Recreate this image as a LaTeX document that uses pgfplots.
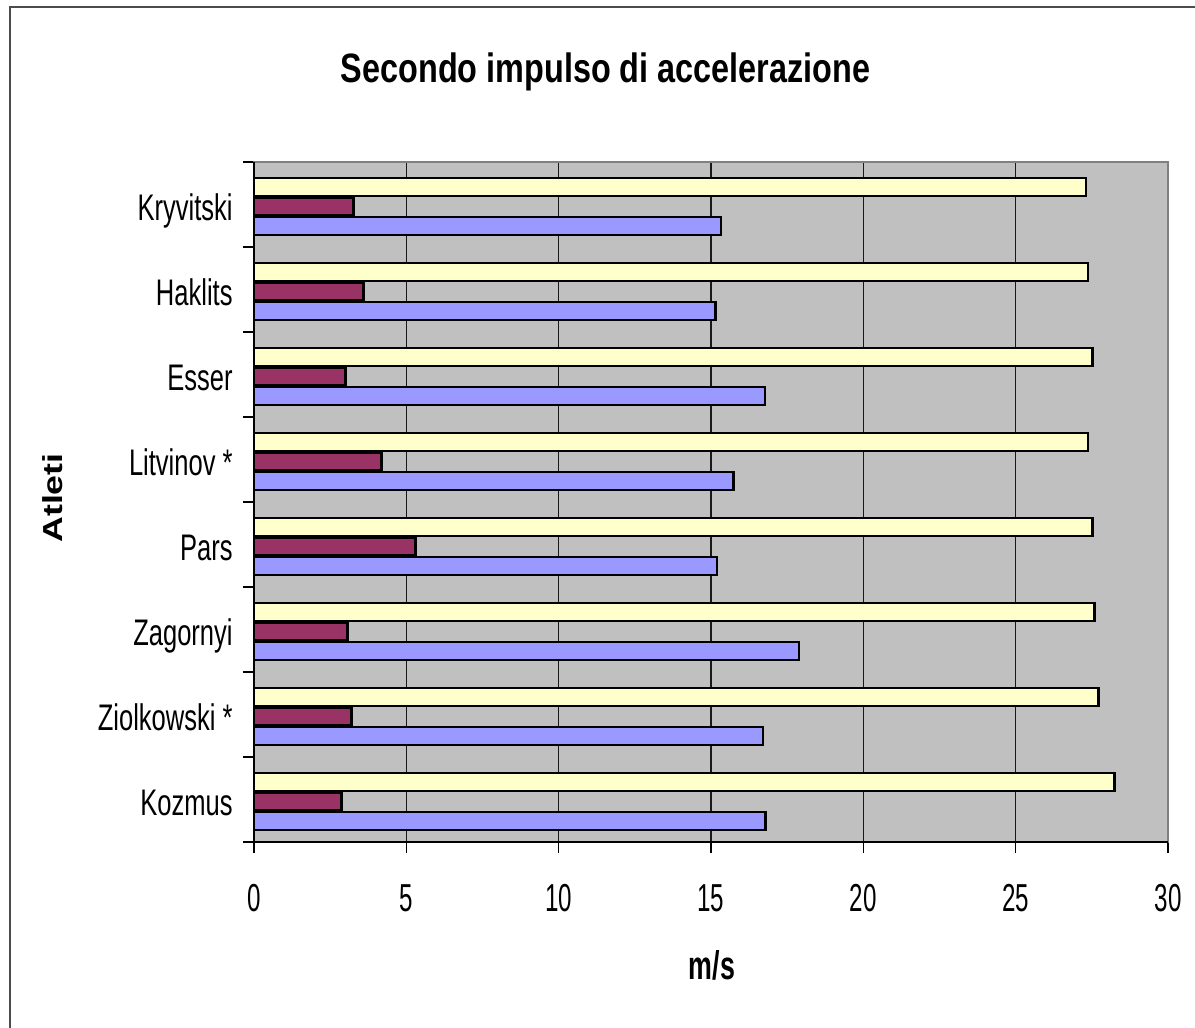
\documentclass[border=0pt]{standalone}
\usepackage{fontspec}
\usepackage{pgfplots}
\pgfplotsset{compat=1.18}
\setmainfont{Liberation Sans}
\newfontfamily\titlefont{Liberation Sans}[FakeStretch=0.79]
\newfontfamily\catfont{Liberation Sans}[FakeStretch=0.69]
\newfontfamily\numfont{Liberation Sans}[FakeStretch=0.62]
\newfontfamily\msfont{Liberation Sans}[FakeStretch=0.67]
\newfontfamily\atfont{Liberation Sans}[FakeStretch=1.3]

\definecolor{plotbg}{HTML}{C0C0C0}
\definecolor{barYellow}{HTML}{FFFFCC}
\definecolor{barMaroon}{HTML}{993366}
\definecolor{barBlue}{HTML}{9999FF}

\begin{document}
\begin{tikzpicture}[x=0.5pt,y=-0.5pt]
\path[use as bounding box] (0,0) rectangle (1195,1028);
% chart frame
\draw[black!70, line width=0.7pt] (10,1028) -- (10,7) -- (1195,7);

\begin{axis}[
  at={(127pt,-421pt)}, anchor=south west,
  scale only axis, width=457pt, height=340pt,
  xmin=0, xmax=30, ymin=-0.5, ymax=7.5,
  axis background/.style={fill=plotbg},
  axis line style={draw=black!50, line width=1pt},
  xtick={0,5,...,30},
  xticklabels={0,5,10,15,20,25,30},
  ytick={-0.5,0.5,...,7.5},
  yticklabels={Kozmus,Ziolkowski *,Zagornyi,Pars\ ,Litvinov *,Esser,Haklits,Kryvitski,{}},
  xtick pos=bottom, ytick pos=left,
  tick align=outside,
  major tick length=5.5pt,
  tick style={black, line width=0.6pt},
  xmajorgrids=true,
  major grid style={black!90, line width=0.55pt},
  xticklabel style={font=\numfont\fontsize{19.5pt}{22pt}\selectfont, anchor=base, inner sep=0pt, yshift=-29pt},
  yticklabel style={font=\catfont\fontsize{18.5pt}{22pt}\selectfont, anchor=base east, inner sep=0pt, xshift=-5pt, yshift=13.25pt},
  bar width=0.21,
  clip=false,
]
% first series (blue, lowest bar of each group)
\addplot[xbar, bar shift=-0.253, fill=barBlue, draw=black, line width=1.3pt]
  coordinates {(16.78,0) (16.71,1) (17.89,2) (15.20,3) (15.73,4) (16.77,5) (15.14,6) (15.33,7)};
% second series (maroon, middle bar)
\addplot[xbar, bar shift=-0.024, fill=barMaroon, draw=black, line width=1.3pt]
  coordinates {(2.88,0) (3.20,1) (3.07,2) (5.30,3) (4.18,4) (3.00,5) (3.59,6) (3.27,7)};
% third series (pale yellow, top bar)
\addplot[xbar, bar shift=0.205, fill=barYellow, draw=black, line width=1.3pt]
  coordinates {(28.24,0) (27.71,1) (27.58,2) (27.52,3) (27.38,4) (27.52,5) (27.38,6) (27.31,7)};
% dark left and bottom axis lines
\draw[black, line width=0.9pt] (rel axis cs:0,1) -- (rel axis cs:0,0) -- (rel axis cs:1,0);
\end{axis}

\node[font=\titlefont\bfseries\fontsize{20.5pt}{24pt}\selectfont, anchor=base, inner sep=0pt]
  at (605.5,83) {Secondo impulso di accelerazione};
\node[font=\msfont\bfseries\fontsize{20pt}{24pt}\selectfont, anchor=base, inner sep=0pt]
  at (712,979) {m/s};
\node[font=\atfont\bfseries\fontsize{13.75pt}{16pt}\selectfont, anchor=base, inner sep=0pt, rotate=90]
  at (62,498) {Atleti};
\end{tikzpicture}
\end{document}
